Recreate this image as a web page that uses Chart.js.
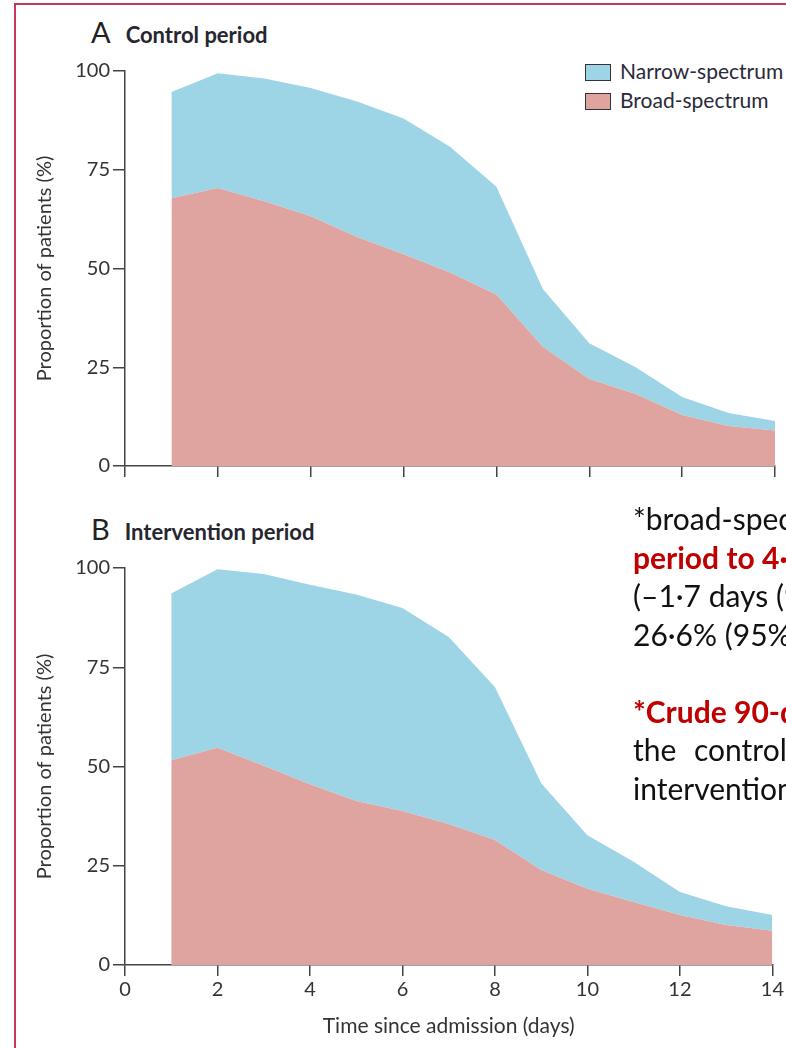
<!DOCTYPE html>
<html>
<head>
<meta charset="utf-8">
<script src="https://cdn.jsdelivr.net/npm/chart.js@4.4.0/dist/chart.umd.min.js"></script>
<style>
  body { margin: 0; width: 786px; height: 1048px; overflow: hidden; background: #fff; position: relative; font-family: Lato, sans-serif; }
  .frame { position: absolute; left: 14px; top: 3px; width: 900px; height: 1100px; border-top: 2px solid #c8385e; border-left: 2px solid #c8385e; }
  .panel { position: absolute; left: 0; width: 786px; }
  .ptitle { position: absolute; left: 91px; font-size: 29px; line-height: 29px; color: #222; white-space: nowrap; }
  .ptitle b { font-size: 22px; margin-left: 15px; color: #262630; }
  .legend { position: absolute; left: 585px; top: 62px; font-size: 21px; color: #2a2a3a; }
  .legend div { height: 29px; line-height: 17px; white-space: nowrap; }
  .legend span { display: inline-block; width: 24px; height: 15px; border: 1px solid #333; margin-right: 9px; vertical-align: -2px; }
  .note { position: absolute; left: 633px; top: 499px; font-family: Lato, sans-serif; font-size: 30px; line-height: 38.5px; color: #111; white-space: nowrap; }
  .note .red { color: #c00000; font-weight: bold; }
</style>
</head>
<body>
<div class="frame"></div>

<div class="ptitle" style="top:17px">A<b>Control period</b></div>
<div class="ptitle" style="top:514px">B<b>Intervention period</b></div>

<div class="legend">
  <div><span style="background:#9dd5e7"></span>Narrow-spectrum</div>
  <div><span style="background:#e0a4a0"></span>Broad-spectrum</div>
</div>

<div class="panel" style="top:50px;height:440px"><canvas id="graficoControl"></canvas></div>
<div class="panel" style="top:545px;height:503px"><canvas id="graficoIntervencion"></canvas></div>

<div class="note">
  <div>*broad-spectrum</div>
  <div class="red">period to 4·</div>
  <div>(–1·7 days (95%</div>
  <div>26·6% (95% CI</div>
  <div>&nbsp;</div>
  <div class="red">*Crude 90-day</div>
  <div style="word-spacing:10px">the control period</div>
  <div>intervention</div>
</div>

<script>
// dias desde el ingreso
const dias = [1, 2, 3, 4, 5, 6, 7, 8, 9, 10, 11, 12, 13, 14];

// periodo de control (%)
const controlAmplio = [67.8, 70.4, 67.0, 63.2, 58.0, 53.6, 49.0, 43.4, 30.2, 22.0, 18.2, 12.9, 10.1, 9.0];
const controlReducido = [26.9, 29.0, 31.1, 32.5, 34.3, 34.4, 31.8, 27.3, 14.6, 9.1, 6.8, 4.6, 3.3, 2.4];

// periodo de intervencion (%)
const intervAmplio = [51.6, 54.7, 50.2, 45.5, 41.3, 38.8, 35.5, 31.5, 23.9, 19.2, 15.9, 12.6, 10.1, 8.6];
const intervReducido = [42.0, 45.0, 48.3, 50.3, 52.0, 51.1, 47.1, 38.5, 21.9, 13.5, 10.1, 5.8, 4.7, 4.0];

const ticksX = [0, 2, 4, 6, 8, 10, 12, 14];
const ticksY = [0, 25, 50, 75, 100];

const colorEje = "#444";
const colorTexto = "#333";

function puntos(valores) {
  return valores.map((v, i) => ({ x: dias[i], y: v }));
}

function crearGrafico(id, amplio, reducido, conEtiquetasX, altoEjeX, padTop) {
  const ctx = document.getElementById(id).getContext("2d");
  return new Chart(ctx, {
    type: "line",
    data: {
      datasets: [
        {
          label: "Broad-spectrum",
          data: puntos(amplio),
          backgroundColor: "#e0a4a0",
          borderWidth: 0,
          pointRadius: 0,
          fill: "origin",
          tension: 0,
        },
        {
          label: "Narrow-spectrum",
          data: puntos(reducido),
          backgroundColor: "#9dd5e7",
          borderWidth: 0,
          pointRadius: 0,
          fill: "-1",
          tension: 0,
        },
      ],
    },
    options: {
      responsive: true,
      maintainAspectRatio: false,
      animation: false,
      layout: { padding: { top: padTop, right: 11, left: 0, bottom: 0 } },
      plugins: { legend: { display: false }, tooltip: { enabled: false } },
      scales: {
        x: {
          type: "linear",
          min: 0,
          max: 14,
          afterBuildTicks: (s) => { s.ticks = ticksX.map((v) => ({ value: v })); },
          ticks: {
            display: conEtiquetasX,
            color: colorTexto,
            font: { family: "Lato", size: 20 },
            padding: 2,
            maxRotation: 0,
          },
          grid: { drawOnChartArea: false, drawTicks: true, tickLength: 11, color: colorEje, lineWidth: 1.5 },
          border: { color: colorEje, width: 1.5 },
          title: {
            display: conEtiquetasX,
            text: "Time since admission (days)",
            color: colorTexto,
            font: { family: "Lato", size: 21 },
            padding: { top: 0, bottom: 9 },
          },
          afterFit: (s) => { s.height = altoEjeX; },
        },
        y: {
          stacked: true,
          min: 0,
          max: 100,
          afterBuildTicks: (s) => { s.ticks = ticksY.map((v) => ({ value: v })); },
          ticks: {
            color: colorTexto,
            font: { family: "Lato", size: 20 },
            padding: 3,
          },
          grid: { drawOnChartArea: false, drawTicks: true, tickLength: 12, color: colorEje, lineWidth: 1.5 },
          border: { color: colorEje, width: 1.5 },
          title: {
            display: true,
            text: "Proportion of patients (%)",
            color: colorTexto,
            font: { family: "Lato", size: 20 },
            padding: { top: 33, bottom: 0 },
          },
          afterFit: (s) => { s.width = 125; },
        },
      },
    },
  });
}

crearGrafico("graficoControl", controlAmplio, controlReducido, false, 24, 21);
crearGrafico("graficoIntervencion", intervAmplio, intervReducido, true, 83, 23);
</script>
</body>
</html>
